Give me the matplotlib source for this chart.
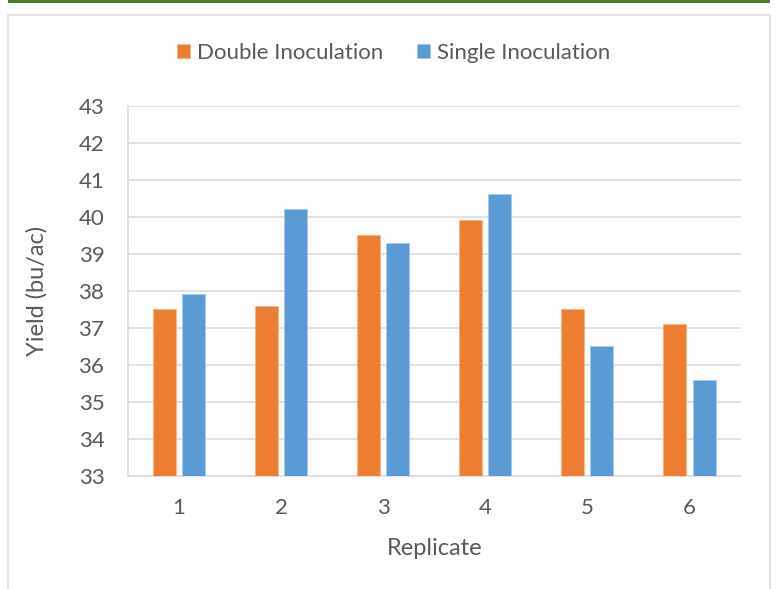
import numpy as np
import matplotlib
matplotlib.use("Agg")
import matplotlib.pyplot as plt
from matplotlib.patches import Rectangle

# data
replicates = ["1", "2", "3", "4", "5", "6"]
double_inoc = [37.5, 37.6, 39.5, 39.9, 37.5, 37.1]
single_inoc = [37.9, 40.2, 39.3, 40.6, 36.5, 35.6]
y_ticks = [33, 34, 35, 36, 37, 38, 39, 40, 41, 42, 43]

W, H = 778, 589
txt = "#595959"
grid = "#d9d9d9"
plt.rcParams["font.family"] = ["Lato", "DejaVu Sans"]

fig = plt.figure(figsize=(W / 100, H / 100), dpi=100)

# outer frame of the chart and green rule on top
fig.patches.append(Rectangle((8 / W, -0.05), 762 / W, (H - 15) / H + 0.05,
                             transform=fig.transFigure, fill=False,
                             edgecolor="#e3e3e3", lw=1.5))
fig.patches.append(Rectangle((8 / W, (H - 3) / H), 762 / W, 3 / H,
                             transform=fig.transFigure, facecolor="#4e7a2b",
                             edgecolor="none"))

ax = fig.add_axes([128 / W, (H - 476) / H, (740.5 - 128) / W, (476 - 105.5) / H])

x = np.arange(len(replicates))
bw = 0.225
off = 0.143
ax.bar(x - off, np.array(double_inoc) - 33, bw, bottom=33, color="#ED7D31",
       edgecolor="#f6b58a", lw=0.6, label="Double Inoculation", zorder=3)
ax.bar(x + off, np.array(single_inoc) - 33, bw, bottom=33, color="#5B9BD5",
       edgecolor="#a5c8ea", lw=0.6, label="Single Inoculation", zorder=3)

ax.set_xlim(-0.5, len(replicates) - 0.5)
ax.set_ylim(33, 43)
ax.set_yticks(y_ticks)
ax.set_xticks(x)
ax.set_xticklabels(replicates)
ax.yaxis.grid(True, color=grid, lw=1.1, zorder=0)
ax.set_axisbelow(True)
for s in ["top", "right"]:
    ax.spines[s].set_visible(False)
ax.spines["left"].set_color(grid)
ax.spines["bottom"].set_color(grid)
ax.spines["left"].set_linewidth(1.1)
ax.spines["bottom"].set_linewidth(1.1)
ax.tick_params(axis="both", length=0, labelsize=16, colors=txt)
ax.tick_params(axis="y", pad=17)
ax.tick_params(axis="x", pad=15.5)

ax.set_xlabel("Replicate", fontsize=17, color=txt, labelpad=15)
ax.set_ylabel("Yield (bu/ac)", fontsize=17, color=txt, labelpad=22)

leg = fig.legend(loc="center", bbox_to_anchor=(393.5 / W, (H - 53) / H), ncol=2,
                 frameon=False, fontsize=16, handlelength=0.62, handleheight=0.62,
                 handletextpad=0.3, columnspacing=1.5, labelcolor=txt)

fig.savefig("out.png", dpi=100)
